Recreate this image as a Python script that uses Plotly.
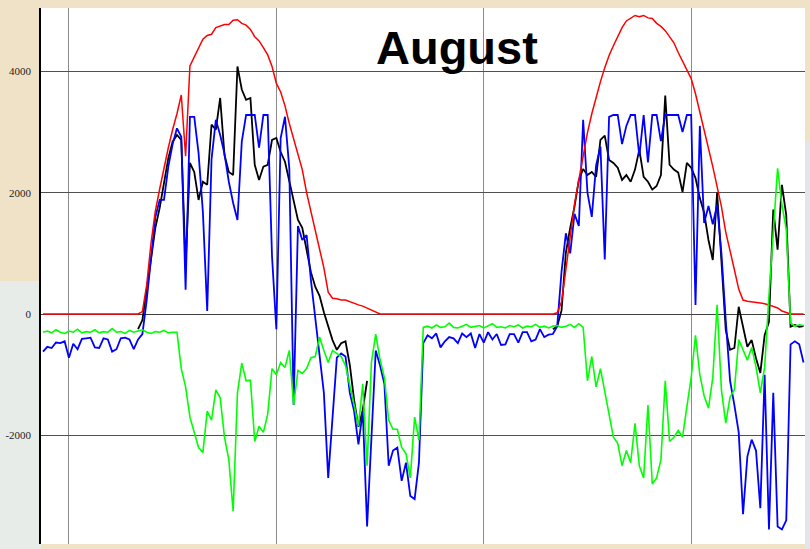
import plotly.graph_objects as go

# time base: samples every 15 minutes (hours relative to first vertical grid line)
hours = [round(-1.5 + 0.25 * i, 2) for i in range(177)]

pv_red = [
    0, 0, 0, 0, 0, 0, 0, 0, 0, 0, 0, 0, 0, 0, 0, 0, 0, 0, 0, 0, 0, 0, 0,
    40, 480, 1170, 1700, 2060, 2410, 2740, 3040, 3300, 3610, 2600, 4090, 4240, 4380, 4530, 4590,
    4610, 4720, 4740, 4770, 4770, 4840, 4850, 4790, 4760, 4690, 4570, 4500, 4390, 4270, 4080, 3800,
    3660, 3430, 3140, 2890, 2610, 2380, 2000, 1700, 1390, 1070, 760, 360, 260, 250, 230, 230,
    200, 180, 150, 130, 100, 60, 30,
    0, 0, 0, 0, 0, 0, 0, 0, 0, 0, 0, 0, 0, 0, 0, 0, 0, 0, 0, 0, 0, 0, 0, 0, 0, 0, 0, 0, 0, 0,
    0, 0, 0, 0, 0, 0, 0, 0, 0, 0, 0,
    20, 200, 730, 1250, 1810, 2210, 2620, 2990, 3300, 3580, 3830, 4060, 4260, 4420, 4570, 4720,
    4830, 4880, 4920, 4900, 4920, 4880, 4870, 4790, 4740, 4670, 4570, 4470, 4310, 4170, 4030, 3880,
    3630, 3330, 3040, 2760, 2430, 2100, 1770, 1350, 1010, 730, 410, 230, 210, 200, 200, 180,
    170, 150, 130, 100, 50, 20,
    0, 0, 0, 0,
]

load_black = [
    None, None, None, None, None, None, None, None, None, None, None,
    None, None, None, None, None, None, None, None, None, None, None,
    -250, -100, 400, 890, 1420, 1750, 2130, 2570, 2840, 2950, 2870, 800, 2490, 2340, 1880, 2180,
    2130, 3120, 3040, 3560, 2620, 2340, 2290, 4080, 3700, 3530, 3560, 2460, 2210, 2430, 2460, 2870,
    2900, 2670, 2510, 2180, 1830, 1550, 1420, 1020, 690, 450, 300, 30, -210, -430, -590, -480,
    -450, -840, -1420, -1860, -1580, -1100,
    None, None, None, None, None, None, None, None, None, None, None, None, None, None,
    None, None, None, None, None, None, None, None, None, None, None, None, None, None,
    None, None, None, None, None, None, None, None, None, None, None, None, None, None,
    -250, -200, 60, 1010, 1420, 1770, 2210, 2390, 2290, 2340, 2260, 2870, 2940, 2540, 2490, 2410,
    2210, 2290, 2180, 2380, 2710, 2260, 2180, 2050, 2110, 2290, 3600, 2460, 2380, 2330, 2010, 2490,
    2410, 2240, 1910, 1670, 1220, 890, 2000, 810, -260, -590, -560, 120, -210, -540, -430, -730,
    -970, -350, -130, 1720, 1060, 2130, 1630, -210, -180, -210, -200,
]

battery_blue = [
    -620, -540, -560, -470, -480, -450, -720, -490, -580, -410, -400, -390, -550, -560, -400, -420,
    -620, -580, -400, -390, -420, -580, -420, -330, 230, 900, 1600, 1880, 1880, 2430, 2800, 3060,
    2920, 400, 3250, 3250, 2650, 1680, 50, 2550, 3200, 2950, 2640, 2180, 1830, 1550, 2840, 3280,
    3280, 3280, 2740, 3280, 3280, 950, -250, 2900, 3250, 2400, -1500, 1450, 1220, 1300, 560, -50,
    -600, -1300, -2700, -1700, -720, -650, -700, -1300, -1600, -2150, -1600, -3500, -2000, -600, -850, -1150,
    -2500, -2250, -2200, -2750, -2450, -3000, -3050, -2450, -480, -350, -400, -320, -550, -450, -380, -400,
    -480, -320, -380, -320, -560, -330, -470, -300, -420, -330, -510, -500, -330, -330, -470, -300,
    -300, -450, -420, -250, -380, -340, -330, -200, 700, 1330, 1000, 1650, 1450, 3200, 2000, 1600,
    2450, 2760, 900, 3250, 3280, 3280, 2800, 3100, 3280, 3280, 2600, 3280, 2500, 3280, 3280, 2850,
    3280, 3280, 3280, 3280, 3000, 3280, 3280, 150, 3100, 1500, 1780, 1480, 1800, 1000, -100, -1100,
    -1500, -1950, -3300, -2350, -2070, -2250, -3200, -1000, -3550, -1300, -3500, -3550, -3400, -500, -450, -500,
    -800,
]

grid_green = [
    -300, -280, -310, -260, -300, -320, -280, -300, -250, -310, -290, -300, -260, -310, -290, -300,
    -240, -300, -290, -320, -270, -300, -280, -260, -300, -320, -290, -300, -270, -310, -300, -300,
    -900, -1200, -1700, -1950, -2200, -2280, -1600, -1750, -1250, -1380, -2030, -2400, -3250, -1300, -810, -1100,
    -1090, -2100, -1850, -1950, -1650, -900, -1000, -800, -880, -600, -1500, -930, -980, -900, -720, -700,
    -380, -600, -800, -600, -650, -700, -850, -1150, -1500, -1850, -1150, -2500, -800, -330, -750, -1050,
    -1750, -1900, -1900, -2200, -2300, -2700, -1700, -2080, -220, -200, -230, -180, -220, -210, -150, -220,
    -230, -200, -170, -220, -210, -190, -230, -200, -160, -220, -210, -230, -190, -210, -180, -230,
    -200, -210, -170, -220, -200, -230, -200, -190, -220, -200, -170, -220, -160, -220, -1100, -700,
    -1200, -900, -1300, -1700, -2030, -2130, -2500, -2250, -2450, -1800, -2500, -2700, -1500, -2800, -2700, -2400,
    -1100, -2100, -2030, -1920, -2030, -1530, -1050, -350, -1000, -1350, -1550, -1050, 150, -1250, -1800, -1370,
    -1250, -420, -600, -760, -550, -870, -1300, -880, 300, 1300, 2400, 1800, 1400, -150, -200, -180,
    -190,
]

y_ticks = [-2000, 0, 2000, 4000]
title_text = "August"

fig = go.Figure()
fig.add_trace(go.Scatter(x=hours, y=load_black, mode="lines", name="load",
                         line=dict(color="#000000", width=1.8), connectgaps=False))
fig.add_trace(go.Scatter(x=hours, y=battery_blue, mode="lines", name="battery",
                         line=dict(color="#0000ff", width=1.8)))
fig.add_trace(go.Scatter(x=hours, y=pv_red, mode="lines", name="pv",
                         line=dict(color="#ff0000", width=1.5)))
fig.add_trace(go.Scatter(x=hours, y=grid_green, mode="lines", name="grid",
                         line=dict(color="#00ff00", width=1.6)))

fig.add_annotation(text="<b>" + title_text + "</b>", xref="paper", yref="paper",
                   x=0.544, y=0.927, xanchor="center", yanchor="middle", showarrow=False,
                   font=dict(family="Liberation Sans, Arial, sans-serif", size=47, color="#000000"))

# background decoration outside plot area
fig.add_shape(type="rect", xref="paper", yref="paper", x0=-0.06, x1=0, y0=-0.02, y1=0.49,
              fillcolor="#e8ece8", line=dict(width=0), layer="below")
fig.add_shape(type="rect", xref="paper", yref="paper", x0=1.0, x1=1.01, y0=-0.02, y1=0.75,
              fillcolor="#e2e6ea", line=dict(width=0), layer="below")

fig.update_layout(
    width=810, height=549,
    margin=dict(l=39, r=5, t=8, b=5),
    paper_bgcolor="#efe2c7",
    plot_bgcolor="#ffffff",
    showlegend=False,
    font=dict(family="Liberation Serif, Times New Roman, serif", size=11, color="#222222"),
)
fig.update_xaxes(range=[-1.616, 42.585], tick0=0, dtick=12, showticklabels=False,
                 showgrid=True, gridcolor="#8a8a8a", gridwidth=1.3, zeroline=False,
                 showline=False, ticks="")
fig.update_yaxes(range=[-3790, 5043], tickvals=y_ticks, ticktext=[str(v) for v in y_ticks],
                 showgrid=True, gridcolor="#505050", gridwidth=1, zeroline=True,
                 zerolinecolor="#404040", zerolinewidth=1,
                 showline=True, linecolor="#000000", linewidth=1.5,
                 ticks="outside", ticklen=6, tickcolor="rgba(0,0,0,0)")

fig.write_html("out.html", config={"displayModeBar": False},
               post_script="document.body.style.margin='0px';document.body.style.overflow='hidden';")
